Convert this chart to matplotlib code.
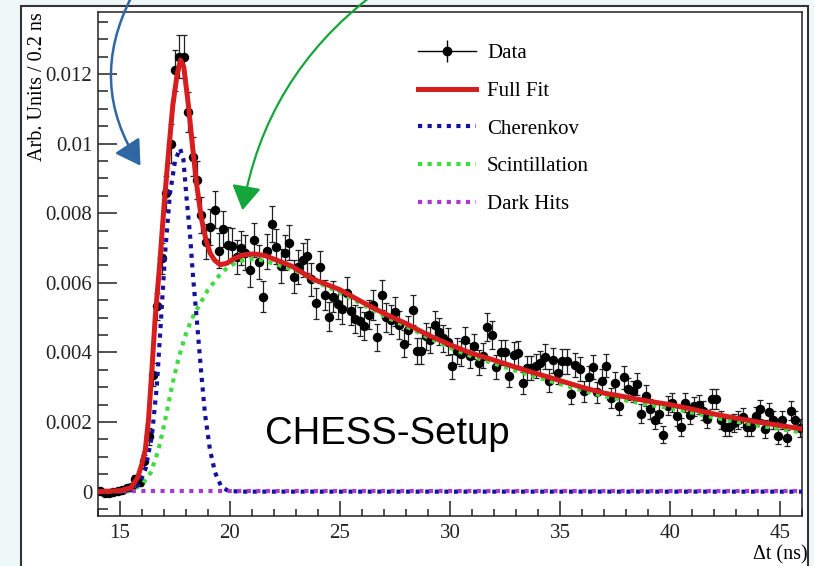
import numpy as np
import matplotlib
matplotlib.use("Agg")
import matplotlib.pyplot as plt
from matplotlib.lines import Line2D
from matplotlib.patches import Rectangle, FancyArrowPatch
from matplotlib.legend_handler import HandlerTuple
from matplotlib.ticker import MultipleLocator, FuncFormatter

# binned time differences, 0.2 ns bins from 14 to 46 ns
bin_lo, bin_hi, bin_w = 14.0, 46.0, 0.2
dt = np.arange(bin_lo + bin_w / 2, bin_hi, bin_w)

# measured rate (units of 1e-3 per 0.2 ns)
rate = np.array([
    0.02, -0.03, -0.05, 0.00, 0.03, 0.05, 0.10, 0.12, 0.35, 0.28,
    0.87, 1.59, 3.36, 5.32, 6.70, 8.57, 10.0, 12.1, 12.5, 12.5,
    10.9, 9.62, 8.95, 7.95, 7.18, 7.60, 8.10, 6.92, 7.54, 7.09,
    7.06, 6.73, 7.00, 6.87, 6.37, 7.23, 6.60, 5.60, 6.90, 7.69,
    7.04, 6.48, 6.87, 7.15, 6.18, 6.45, 6.66, 6.77, 6.10, 5.41,
    6.45, 5.65, 5.03, 5.60, 5.39, 5.24, 5.72, 5.20, 4.96, 4.89,
    4.76, 5.08, 5.37, 4.44, 5.65, 5.01, 4.94, 5.17, 4.79, 4.25,
    4.65, 5.22, 4.03, 4.03, 4.46, 4.36, 4.79, 4.60, 4.41, 4.31,
    3.60, 4.03, 3.96, 4.36, 3.90, 4.17, 3.71, 3.90, 4.74, 4.50,
    3.58, 4.00, 4.00, 3.33, 3.93, 3.98, 3.12, 3.55, 3.55, 3.60,
    3.69, 3.88, 3.19, 3.77, 3.42, 3.74, 3.74, 2.81, 3.64, 3.52,
    2.88, 3.29, 3.58, 2.85, 3.19, 3.62, 2.69, 3.12, 2.47, 3.29,
    2.95, 2.88, 3.10, 2.24, 2.76, 2.38, 2.05, 2.24, 1.64, 2.47,
    2.56, 2.16, 1.86, 2.56, 2.21, 2.45, 2.50, 2.33, 2.09, 2.66,
    2.66, 2.05, 1.86, 1.86, 1.97, 2.07, 2.14, 1.86, 1.86, 2.16,
    2.37, 1.80, 2.28, 2.07, 1.61, 2.07, 1.54, 2.33, 2.07, 1.83,
]) * 1e-3

rate_err = np.array([
    0.05, 0.05, 0.05, 0.05, 0.05, 0.06, 0.07, 0.08, 0.12, 0.12,
    0.18, 0.25, 0.33, 0.40, 0.45, 0.50, 0.55, 0.60, 0.62, 0.62,
    0.58, 0.56, 0.55, 0.52, 0.50, 0.52, 0.53, 0.50, 0.52, 0.50,
    0.50, 0.49, 0.50, 0.49, 0.48, 0.50, 0.48, 0.45, 0.49, 0.52,
    0.50, 0.48, 0.49, 0.50, 0.47, 0.48, 0.48, 0.49, 0.47, 0.44,
    0.47, 0.44, 0.42, 0.44, 0.43, 0.43, 0.44, 0.42, 0.41, 0.41,
    0.41, 0.42, 0.43, 0.39, 0.44, 0.41, 0.41, 0.42, 0.41, 0.38,
    0.40, 0.42, 0.37, 0.37, 0.39, 0.38, 0.40, 0.39, 0.39, 0.38,
    0.35, 0.37, 0.36, 0.38, 0.36, 0.37, 0.35, 0.36, 0.40, 0.39,
    0.35, 0.36, 0.36, 0.33, 0.36, 0.36, 0.32, 0.34, 0.34, 0.34,
    0.35, 0.35, 0.32, 0.35, 0.33, 0.35, 0.35, 0.30, 0.34, 0.34,
    0.31, 0.33, 0.34, 0.30, 0.32, 0.34, 0.30, 0.32, 0.28, 0.33,
    0.31, 0.30, 0.31, 0.27, 0.30, 0.28, 0.26, 0.27, 0.24, 0.28,
    0.28, 0.27, 0.25, 0.28, 0.27, 0.28, 0.28, 0.27, 0.26, 0.29,
    0.29, 0.26, 0.25, 0.25, 0.26, 0.26, 0.27, 0.25, 0.25, 0.27,
    0.27, 0.25, 0.27, 0.26, 0.24, 0.26, 0.24, 0.27, 0.26, 0.25,
]) * 1e-3

# fit components
fit_t = [14.0, 14.5, 15.0, 15.5, 15.8, 16.0, 16.15, 16.3, 16.45, 16.6,
         16.8, 17.0, 17.2, 17.4, 17.6, 17.75, 17.9, 18.1, 18.3, 18.5,
         18.7, 18.9, 19.1, 19.3, 19.55, 19.85, 20.2, 20.6, 21.1, 21.6,
         22.0, 22.8, 23.7, 24.0, 25.0, 26.0, 27.0, 28.0, 29.0, 30.0,
         31.0, 32.0, 33.0, 34.0, 35.0, 36.0, 37.0, 38.0, 39.0, 40.0,
         41.0, 42.0, 43.0, 44.0, 45.0, 46.0]
fit_full = np.array([
    0.0, 0.01, 0.03, 0.11, 0.40, 0.80, 1.20, 2.10, 3.50, 5.00,
    6.50, 8.20, 9.70, 11.1, 12.0, 12.4, 12.2, 11.15, 9.90, 8.75,
    7.85, 7.25, 6.85, 6.65, 6.52, 6.56, 6.70, 6.80, 6.83, 6.78,
    6.68, 6.48, 6.13, 6.05, 5.80, 5.45, 5.12, 4.83, 4.50, 4.22,
    3.97, 3.78, 3.57, 3.38, 3.19, 3.00, 2.83, 2.72, 2.60, 2.50,
    2.37, 2.23, 2.11, 2.00, 1.90, 1.80]) * 1e-3

scint_t = [14.0, 15.0, 15.5, 16.0, 16.4, 16.75, 17.05, 17.35, 17.65, 17.95,
           18.25, 18.55, 19.0, 19.5, 19.9, 20.4, 20.9, 21.4, 22.0, 23.0,
           24.0, 25.0, 26.0, 27.0, 28.0, 29.0, 30.0, 31.0, 32.0, 33.0,
           34.0, 35.0, 36.0, 37.0, 38.0, 39.0, 40.0, 41.0, 42.0, 43.0,
           44.0, 45.0, 46.0]
scint = np.array([
    0.0, 0.0, 0.03, 0.20, 0.55, 1.20, 2.05, 3.00, 3.80, 4.45,
    4.95, 5.30, 5.80, 6.20, 6.45, 6.62, 6.68, 6.66, 6.55, 6.35,
    6.00, 5.72, 5.38, 5.05, 4.75, 4.43, 4.13, 3.88, 3.68, 3.47,
    3.28, 3.09, 2.91, 2.74, 2.62, 2.50, 2.40, 2.27, 2.13, 2.01,
    1.90, 1.80, 1.70]) * 1e-3

cher_t = [14.0, 15.0, 15.5, 15.85, 16.15, 16.45, 16.67, 16.86, 17.05, 17.27,
          17.5, 17.73, 17.88, 18.03, 18.18, 18.33, 18.49, 18.68, 18.86, 19.09,
          19.32, 19.6, 19.92, 20.5, 46.0]
cher = np.array([
    0.0, 0.0, 0.06, 0.20, 0.63, 1.60, 3.00, 4.90, 6.85, 8.55,
    9.50, 9.86, 9.55, 8.40, 7.40, 6.10, 4.95, 3.50, 2.25, 1.20,
    0.55, 0.15, 0.02, 0.0, 0.0]) * 1e-3

dark_t = [14.0, 46.0]
dark = np.array([0.02, 0.02]) * 1e-3

RED = "#d61e1e"
BLUE = "#12129c"
GREEN = "#3fdc3f"
VIOLET = "#a83ad0"

plt.rcParams["font.family"] = ["Liberation Serif", "DejaVu Serif"]

fig = plt.figure(figsize=(8.14, 5.66), dpi=100)
fig.patch.set_facecolor("#eef8f8")
W, H = 814, 566

# white canvas with frame
fig.add_artist(Rectangle((21 / W, -0.02), (808 - 21) / W, (566 - 6) / H + 0.02,
                         transform=fig.transFigure, facecolor="white",
                         edgecolor="#333333", linewidth=1.5, zorder=-1))

ax = fig.add_axes([98 / W, (566 - 516) / H, 704 / W, 504 / H])
ax.set_xlim(bin_lo, bin_hi)
ax.set_ylim(-0.0007, 0.01378)

ax.errorbar(dt, rate, yerr=rate_err, fmt="o", color="black", ms=5.8,
            ecolor="#222222", elinewidth=0.9, capsize=2.2, capthick=0.9,
            zorder=2)

dot = (0, (1, 1.3))
l_scint, = ax.plot(scint_t, scint, color=GREEN, lw=3.0, ls=dot, zorder=3)
l_cher, = ax.plot(cher_t, cher, color=BLUE, lw=3.0, ls=dot, zorder=4)
# dark hits dots shifted half a period so they interleave with the blue tail
ax.plot(dark_t, dark, color=VIOLET, lw=3.0, ls=(1.1, (1, 1.3)), zorder=4.5)
l_full, = ax.plot(fit_t, fit_full, color=RED, lw=3.6, zorder=5,
                  solid_joinstyle="round")

ax.xaxis.set_major_locator(MultipleLocator(5))
ax.xaxis.set_minor_locator(MultipleLocator(1))
ax.yaxis.set_major_locator(MultipleLocator(0.002))
ax.yaxis.set_minor_locator(MultipleLocator(0.0005))
ax.yaxis.set_major_formatter(FuncFormatter(lambda v, p: "%g" % round(v, 6)))

ax.tick_params(axis="both", which="both", direction="in", colors="#222222",
               labelsize=15, width=1.1)
ax.tick_params(axis="y", which="major", length=13.5, pad=4)
ax.tick_params(axis="y", which="minor", length=7)
ax.tick_params(axis="x", which="major", length=11, pad=6)
ax.tick_params(axis="x", which="minor", length=5)
for s in ax.spines.values():
    s.set_linewidth(1.1)
    s.set_color("#222222")

ax.set_ylabel("Arb. Units / 0.2 ns", fontsize=14.5, loc="top")
ax.yaxis.set_label_coords(-(98 - 47) / 704, 1.0)
ax.set_xlabel("\u0394t (ns)", fontsize=14.5, loc="right")
ax.xaxis.set_label_coords((808 - 98) / 704, -0.058)

ax.text(0.237, 0.143, "CHESS-Setup", transform=ax.transAxes,
        family="Liberation Sans", fontsize=27.5, ha="left", va="baseline")

data_handle = (Line2D([], [], color="black", lw=1.0, marker="o", ms=6),
               Line2D([], [], color="black", ls="none", marker="|", ms=16,
                      markeredgewidth=1.0))
dark_handle = Line2D([], [], color=VIOLET, lw=3.0, ls=dot)
leg = ax.legend([data_handle, l_full, l_cher, l_scint, dark_handle],
                ["Data", "Full Fit", "Cherenkov", "Scintillation", "Dark Hits"],
                handler_map={tuple: HandlerTuple(ndivide=1, pad=0)},
                loc="upper left", bbox_to_anchor=(0.455, 0.937),
                frameon=False, fontsize=15, handlelength=2.75,
                handletextpad=0.55, labelspacing=0.87, borderpad=0,
                borderaxespad=0)

# annotation arrows coming in from above
blue_arrow = FancyArrowPatch((133, 572), (142, 398), transform=None,
                             connectionstyle="arc3,rad=0.3",
                             arrowstyle="-|>,head_length=0.75,head_width=0.45",
                             mutation_scale=20, color="#2e67a4", lw=1.8,
                             zorder=10)
green_arrow = FancyArrowPatch((374, 572), (242, 353), transform=None,
                              connectionstyle="arc3,rad=0.2",
                              arrowstyle="-|>,head_length=0.75,head_width=0.45",
                              mutation_scale=20, color="#14a63a", lw=1.6,
                              zorder=10)
fig.add_artist(blue_arrow)
fig.add_artist(green_arrow)

fig.savefig("out.png", dpi=100, facecolor=fig.get_facecolor())
